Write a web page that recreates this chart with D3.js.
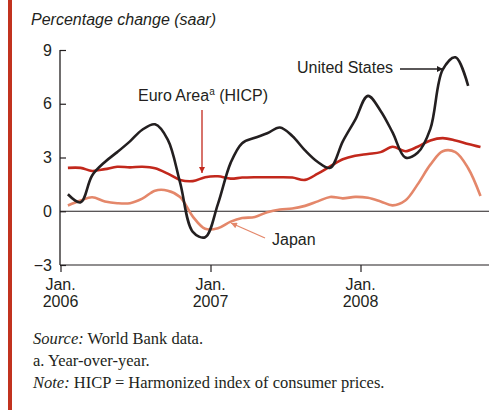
<!DOCTYPE html>
<html><head><meta charset="utf-8">
<script src="https://cdn.jsdelivr.net/npm/d3@7"></script>
<style>body{margin:0;background:#fff;} svg{display:block;}</style>
</head><body>
<svg id="c" width="500" height="414"></svg>
<script>
// Month labels (mid-month observations), Jan 2006 = index 0
const monthsEuJp = ["2006-01","2006-02","2006-03","2006-04","2006-05","2006-06","2006-07","2006-08","2006-09","2006-10","2006-11","2006-12",
  "2007-01","2007-02","2007-03","2007-04","2007-05","2007-06","2007-07","2007-08","2007-09","2007-10","2007-11","2007-12",
  "2008-01","2008-02","2008-03","2008-04","2008-05","2008-06","2008-07","2008-08","2008-09","2008-10"];
const monthsUS = monthsEuJp.slice(0, 33);
const usValues = [0.95,0.5,2.0,2.75,3.3,3.9,4.55,4.85,4.0,1.6,-1.15,-1.45,
  0.4,2.7,3.8,4.1,4.35,4.67,4.2,3.4,2.75,2.42,3.9,5.1,
  6.44,5.6,4.4,3.0,3.26,4.6,7.9,8.59,7.0];
const euroValues = [2.42,2.42,2.25,2.35,2.48,2.45,2.48,2.4,2.1,1.75,1.68,1.9,
  1.95,1.82,1.88,1.9,1.9,1.9,1.88,1.75,2.1,2.5,2.9,3.1,
  3.2,3.3,3.6,3.35,3.6,3.95,4.08,3.95,3.75,3.58];
const japanValues = [0.32,0.6,0.78,0.55,0.45,0.45,0.7,1.15,1.15,0.8,-0.3,-0.98,
  -0.95,-0.58,-0.38,-0.32,-0.05,0.1,0.15,0.3,0.55,0.8,0.72,0.8,
  0.75,0.55,0.33,0.6,1.5,2.6,3.35,3.3,2.4,0.85];
const yTicks = [-3,0,3,6,9];
const yTickLabels = ["\u22123","0","3","6","9"];
const xTickDates = ["2006-01-01","2007-01-01","2008-01-01"];
const xTickLabels = [["Jan.","2006"],["Jan.","2007"],["Jan.","2008"]];

const svg = d3.select("#c");
const parseM = d3.timeParse("%Y-%m");
const midMonth = s => { const d = parseM(s); return new Date(d.getFullYear(), d.getMonth(), 19); };

const x = d3.scaleTime().domain([new Date(2006,0,1), new Date(2008,0,1)]).range([60.5, 360.5]);
const y = d3.scaleLinear().domain([-3, 9]).range([265, 50]);
const xEnd = 489;
const ink = "#231f20";
const font = "Liberation Sans, Arial, sans-serif";
const fs = 16;

// left red bar
svg.append("rect").attr("x",8).attr("y",0).attr("width",4).attr("height",410).attr("fill","#c2321f");

// title
svg.append("text").attr("x",31).attr("y",25).attr("font-family",font)
  .attr("font-size",fs).attr("font-style","italic").attr("fill",ink).text("Percentage change (saar)");

// y axis
const yAxis = d3.axisLeft(y).tickValues(yTicks).tickSize(-6).tickPadding(8)
  .tickFormat((d,i)=>yTickLabels[i]);
const gy = svg.append("g").attr("transform","translate(60,0)").call(yAxis);
gy.select(".domain").remove();
gy.selectAll(".tick line").attr("stroke",ink).attr("stroke-width",1.2);
gy.selectAll(".tick text").attr("font-family",font).attr("font-size",fs).attr("fill",ink);
svg.append("line").attr("x1",60).attr("x2",60).attr("y1",y(9)).attr("y2",y(-3)).attr("stroke",ink).attr("stroke-width",1.3);

// baselines at 0 and -3
[0,-3].forEach(v=>{
  svg.append("line").attr("x1",60).attr("x2",xEnd).attr("y1",y(v)).attr("y2",y(v)).attr("stroke",ink).attr("stroke-width",1.1);
});

// x axis
const xAxis = d3.axisBottom(x).tickValues(xTickDates.map(s=>new Date(s+"T00:00"))).tickSize(7).tickFormat("");
const gx = svg.append("g").attr("transform",`translate(0,${y(-3)})`).call(xAxis);
gx.select(".domain").remove();
gx.selectAll(".tick line").attr("stroke",ink).attr("stroke-width",1.2);
xTickDates.forEach((s,i)=>{
  const xx = x(new Date(s+"T00:00"));
  const t = svg.append("text").attr("text-anchor","middle")
    .attr("font-family",font).attr("font-size",fs).attr("fill",ink);
  t.append("tspan").attr("x",xx).attr("y",290).text(xTickLabels[i][0]);
  t.append("tspan").attr("x",xx).attr("y",307).text(xTickLabels[i][1]);
});

// lines
const line = d3.line().x(d=>x(d.date)).y(d=>y(d.v)).curve(d3.curveCatmullRom.alpha(0.5));
const mk = (months, vals) => months.map((m,i)=>({date:midMonth(m), v:vals[i]}));
svg.append("path").datum(mk(monthsEuJp, japanValues)).attr("d",line).attr("fill","none")
  .attr("stroke","#e4876a").attr("stroke-width",2.6).attr("stroke-linejoin","round");
svg.append("path").datum(mk(monthsEuJp, euroValues)).attr("d",line).attr("fill","none")
  .attr("stroke","#c2281c").attr("stroke-width",2.6).attr("stroke-linejoin","round");
svg.append("path").datum(mk(monthsUS, usValues)).attr("d",line).attr("fill","none")
  .attr("stroke",ink).attr("stroke-width",2.6).attr("stroke-linejoin","round");

// annotations
const defs = svg.append("defs");
function marker(id, color){
  defs.append("marker").attr("id",id).attr("viewBox","0 0 10 10").attr("refX",10).attr("refY",5)
    .attr("markerWidth",10).attr("markerHeight",6).attr("markerUnits","userSpaceOnUse").attr("orient","auto")
    .append("path").attr("d","M0,0L10,5L0,10Z").attr("fill",color);
}
marker("arUS", ink); marker("arEU","#c2281c"); marker("arJP","#e4876a");

svg.append("text").attr("x",297).attr("y",73).attr("font-family",font).attr("font-size",fs).attr("fill",ink).text("United States");
svg.append("line").attr("x1",400).attr("y1",69).attr("x2",443).attr("y2",69).attr("stroke",ink).attr("stroke-width",1.3).attr("marker-end","url(#arUS)");

const te = svg.append("text").attr("x",138).attr("y",101).attr("font-family",font).attr("font-size",fs).attr("fill",ink);
te.append("tspan").text("Euro Area");
te.append("tspan").attr("font-size",10).attr("dy",-6).text("a");
te.append("tspan").attr("dy",6).text(" (HICP)");
svg.append("line").attr("x1",202).attr("y1",110).attr("x2",202).attr("y2",173).attr("stroke","#c2281c").attr("stroke-width",1.3).attr("marker-end","url(#arEU)");

svg.append("text").attr("x",272).attr("y",245).attr("font-family",font).attr("font-size",fs).attr("fill",ink).text("Japan");
svg.append("line").attr("x1",265).attr("y1",238).attr("x2",231).attr("y2",223).attr("stroke","#e4876a").attr("stroke-width",1.3).attr("marker-end","url(#arJP)");

// footnotes
const serif = "Liberation Serif, 'Times New Roman', serif";
const sfs = 16.5;
const f1 = svg.append("text").attr("x",33).attr("y",344).attr("font-family",serif).attr("font-size",sfs).attr("fill",ink);
f1.append("tspan").attr("font-style","italic").text("Source:");
f1.append("tspan").text(" World Bank data.");
svg.append("text").attr("x",33).attr("y",366).attr("font-family",serif).attr("font-size",sfs).attr("fill",ink).text("a. Year-over-year.");
const f3 = svg.append("text").attr("x",33).attr("y",388).attr("font-family",serif).attr("font-size",sfs).attr("fill",ink);
f3.append("tspan").attr("font-style","italic").text("Note:");
f3.append("tspan").text(" HICP = Harmonized index of consumer prices.");
</script>
</body></html>
